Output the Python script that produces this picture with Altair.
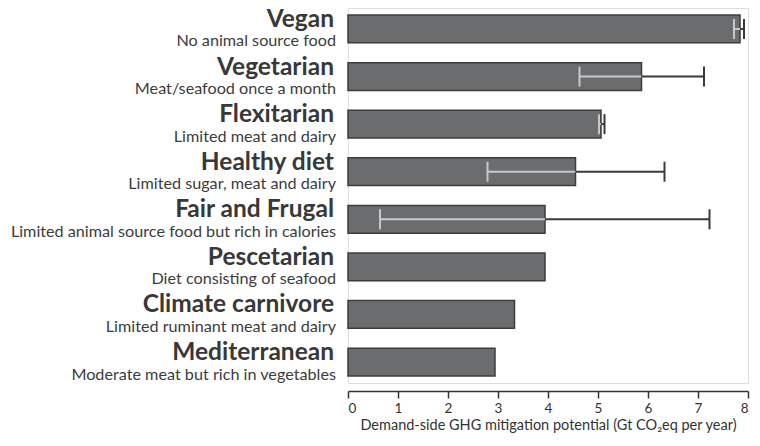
import altair as alt
import pandas as pd

diets = ["Vegan", "Vegetarian", "Flexitarian", "Healthy diet", "Fair and Frugal",
         "Pescetarian", "Climate carnivore", "Mediterranean"]
subtitles = ["No animal source food", "Meat/seafood once a month", "Limited meat and dairy",
             "Limited sugar, meat and dairy", "Limited animal source food but rich in calories",
             "Diet consisting of seafood", "Limited ruminant meat and dairy",
             "Moderate meat but rich in vegetables"]
potential = [7.84, 5.87, 5.06, 4.55, 3.94, 3.94, 3.33, 2.94]
err_low = [7.72, 4.63, 5.02, 2.79, 0.64, None, None, None]
err_high = [7.92, 7.12, 5.13, 6.33, 7.23, None, None, None]
tick_values = [0, 0.5, 1, 1.5, 2, 2.5, 3, 3.5, 4, 4.5, 5, 5.5, 6, 6.5, 7, 7.5, 8]

df = pd.DataFrame({"diet": diets, "sub": subtitles, "value": potential,
                   "low": err_low, "high": err_high})
err = df.dropna(subset=["low"])

FONT = "Lato"

y_enc = alt.Y("diet:N", sort=diets, axis=None,
              scale=alt.Scale(paddingInner=0.4167, paddingOuter=0.149))
x_scale = alt.Scale(domain=[0, 8], nice=False, zero=True)

bars = alt.Chart(df).mark_bar(fill="#6b6c6e", stroke="#3c3c3c", strokeWidth=1.5).encode(
    x=alt.X("value:Q", scale=x_scale,
            title="Demand-side GHG mitigation potential (Gt CO₂eq per year)",
            axis=alt.Axis(values=tick_values, offset=8, grid=False,
                          domainColor="#333333", domainWidth=1.5,
                          tickColor="#333333", tickWidth=1.5,
                          tickSize=alt.ExprRef(expr="datum.value % 1 === 0 ? 7 : 4"),
                          labelExpr="datum.value % 1 === 0 ? datum.label : ''",
                          labelFont=FONT, labelFontSize=13.5, labelColor="#333333",
                          labelPadding=3,
                          titleFont=FONT, titleFontSize=14.5, titleFontWeight="normal",
                          titleColor="#333333", titlePadding=4)),
    y=y_enc,
)

light_rule = alt.Chart(err).mark_rule(color="#c8c8c8", strokeWidth=2).encode(
    x="low:Q", x2="value:Q", y=y_enc)
dark_rule = alt.Chart(err).mark_rule(color="#3a3a3a", strokeWidth=2).encode(
    x="value:Q", x2="high:Q", y=y_enc)
light_cap = alt.Chart(err).mark_tick(color="#c8c8c8", size=20, thickness=2, opacity=1).encode(
    x="low:Q", y=y_enc)
dark_cap = alt.Chart(err).mark_tick(color="#3a3a3a", size=20, thickness=2, opacity=1).encode(
    x="high:Q", y=y_enc)

titles = alt.Chart(df).mark_text(align="right", baseline="alphabetic", dy=-2,
                                 font=FONT, fontSize=24.5, fontWeight="bold",
                                 color="#383838").encode(
    x=alt.value(-14), y=y_enc, text="diet:N")
subs = alt.Chart(df).mark_text(align="right", baseline="alphabetic", dy=17.5,
                               font=FONT, fontSize=16.2, color="#3c3c3c").encode(
    x=alt.value(-12), y=y_enc, text="sub:N")

chart = alt.layer(bars, light_rule, dark_rule, light_cap, dark_cap, titles, subs).properties(
    width=400, height=375,
    autosize=alt.AutoSizeParams(type="none"),
    padding={"left": 340, "top": 0, "right": 4, "bottom": 50},
).configure_view(stroke=None).configure(background="white")

chart.save("out.html", embed_options={"renderer": "svg", "actions": False})
